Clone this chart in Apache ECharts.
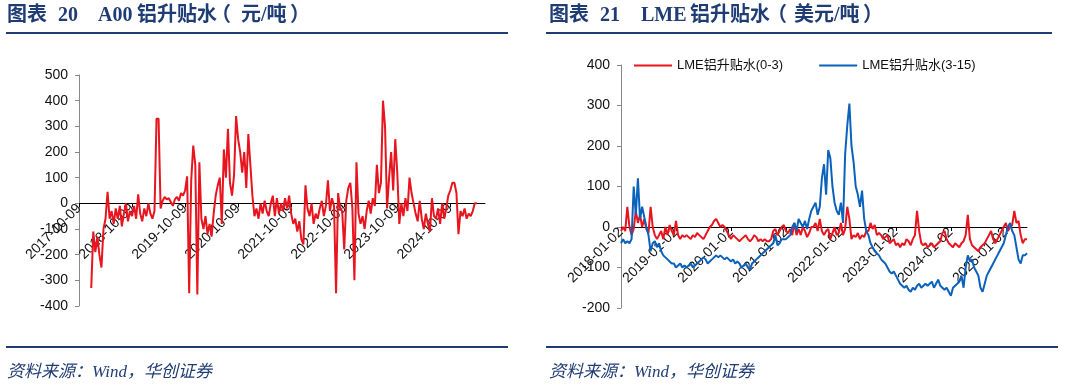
<!DOCTYPE html>
<html>
<head>
<meta charset="utf-8">
<script src="https://cdn.jsdelivr.net/npm/echarts@6/dist/echarts.min.js"></script>
<style>
  html, body { margin: 0; padding: 0; background: #fff; }
  #main { width: 1066px; height: 386px; }
</style>
</head>
<body>
<div id="main"></div>
<script>
// 图表20：A00铝升贴水（元/吨），每26个点一个刻度（约一年）
var a00Ticks = ['2017-10-09', '2018-10-09', '2019-10-09', '2020-10-09', '2021-10-09', '2022-10-09', '2023-10-09', '2024-10-09'];
var a00Values = [
  null, null, null, null, null, null,
  -330, -110, -190, -130, -200, -250, -100, -60, 45, -60,
  -30, -80, -20, -60, -10, -90, -40, 0, -70, -30,
  -50, -10, -60, 35, -40, -70, -20, -50, 0, -40,
  -60, -30, 330, 330, -20, 10, 25, 15, 20, 5,
  -10, 15, 25, 10, 40, 30, 50, 105, -350, 90,
  225, 150, -355, 160, -60, -100, -50, -120, -80, -130,
  -40, 30, 70, 100, -80, 210, 100, 290, 80, 30,
  110, 340, 250, 200, 120, 200, 60, 270, 150, 30,
  -50, -20, -60, 0, -40, 10, -30, -50, 0, 30,
  -50, 20, -40, 0, -30, 20, -20, 30, -40, -80,
  -60, -110, -70, -140, -160, 70, -20, -50, 0, -80,
  -40, -60, -20, 10, -50, -10, 90, -30, 20, -10,
  -350, 40, -20, -30, -180, 10, 60, 80, -20, -300,
  160, -40, -80, -50, -100, -30, 10, -40, 20, -10,
  150, 40, 80, 400, 300, -20, 100, 200, 50, 250,
  120, -80, 0, -50, 20, -30, 100, 40, 0, -40,
  -70, 10, -60, -100, -40, -80, -110, 20, -50, -60,
  -20, -80, 0, -60, -20, 30, 50, 80, 80, 40,
  -120, -30, -50, -20, -60, -40, -50, -30, 0, 0
];

// 图表21：LME铝升贴水（美元/吨）
var lmeTicks = ['2018-01-02', '2019-01-02', '2020-01-02', '2021-01-02', '2022-01-02', '2023-01-02', '2024-01-02', '2025-01-02'];
var lmeNames = ['LME铝升贴水(0-3)', 'LME铝升贴水(3-15)'];
var lme03 = [
  -10, 0, -10, 50, 0, -20, -5, 40, 10, 30,
  0, 20, -5, -15, 50, 0, -20, -30, -20, -10,
  -30, 0, -20, 5, -10, -20, 15, -20, -30, -20,
  -25, -20, -25, -30, -20, -25, -15, -20, -25, -30,
  -20, -10, 0, 5, 15, 20, 10, 0, 5, 0,
  -10, -20, -30, -20, -25, -30, -35, -30, -25, -20,
  -30, -35, -30, -20, -25, -35, -30, -35, -30, -35,
  -35, -30, -10, -5, -20, -10, 0, 5, -10, -15,
  -5, -20, 10, -20, -5, -20, 0, -10, -25, -15,
  0, 0, 10, -10, 20, -10, -20, -10, -5, -30,
  -15, 0, -20, -15, 10, -20, -5, 50, 20, -30,
  -20, -25, -15, -30, -20, -25, -10, -10, 10, -5,
  5, -20, -15, -20, -30, -25, -20, -40, -35, -30,
  -45, -40, -50, -40, -45, -30, -35, -45, -30, -20,
  40, -10, -40, -45, -40, -50, -45, -40, -50, -45,
  -40, -35, -15, -10, -30, -40, -45, -50, -40, -45,
  -50, -40, -35, -20, 30, -30, -45, -50, -55, -60,
  -50, -45, -40, -30, -20, -10, -30, -40, -30, -20,
  -10, 0, 10, -10, 0, 5, 40, 10, 15, -20,
  -40, -30, -30
];
var lme315 = [
  -40, -30, -40, -35, -40, -30, 100, 30, 120, 20,
  50, 25, 0, -20, -60, -40, -35, -50, -40, -60,
  -70, -75, -80, -85, -90, -90, -100, -95, -90, -100,
  -95, -100, -95, -90, -100, -95, -90, -85, -80, -75,
  -80, -90, -85, -80, -75, -70, -75, -70, -75, -80,
  -75, -80, -85, -80, -90, -85, -90, -100, -95, -90,
  -100, -105, -90, -85, -80, -75, -70, -65, -60, -55,
  -50, -45, -40, -20, -45, -40, -30, -30, -30, -25,
  -20, 0, 10, -10, 20, 10, 0, 15, -5, 20,
  40, 50, 60, 30, 50, 120, 155, 80, 190, 170,
  100, 60, 40, 30, 60, 10, 180, 250, 305, 200,
  160, 100, 80, 50, 90, 20, -10, -20, -40, -50,
  -60, -65, -70, -80, -85, -90, -100, -110, -115, -110,
  -120, -130, -140, -145, -150, -145, -155, -160, -150, -155,
  -145, -140, -150, -145, -140, -145, -140, -135, -150, -140,
  -130, -145, -150, -155, -150, -160, -170, -150, -145, -140,
  -135, -120, -150, -100, -70, -85, -80, -100, -110, -120,
  -150, -160, -140, -120, -110, -100, -90, -80, -70, -60,
  -50, -40, -20, 0, 10, -10, -20, -50, -80, -90,
  -70, -70, -65
];

var navy = '#1f3c74';
var red = '#e8141e';
var blue = '#0b62bd';
var sans = "'Liberation Sans', 'Noto Sans CJK SC', sans-serif";
var serif = "'Liberation Serif', 'Noto Sans CJK SC', serif";

// 按刻度生成类目（每段26个点，步长14天）
function buildCats(ticks, tail) {
  var cats = [];
  for (var t = 0; t < ticks.length; t++) {
    var base = new Date(ticks[t] + 'T00:00:00Z').getTime();
    var n = (t < ticks.length - 1) ? 26 : tail + 1;
    for (var k = 0; k < n; k++) {
      cats.push(new Date(base + k * 14 * 86400000).toISOString().slice(0, 10));
    }
  }
  return cats;
}

var a00Cats = buildCats(a00Ticks, 17);
var lmeCats = buildCats(lmeTicks, 10);

// x轴放在0值处：用offset把整条轴（线、刻度、标签）上移
function xAxisOpt(idx, cats, lift) {
  return {
    type: 'category',
    gridIndex: idx,
    data: cats,
    boundaryGap: false,
    offset: -lift,
    axisLine: { onZero: false, lineStyle: { color: '#000', width: 1 } },
    axisTick: { show: true, interval: 25, length: 4, lineStyle: { color: '#000' } },
    axisLabel: { interval: 25, rotate: 45, margin: 3, color: '#111', fontSize: 14, fontFamily: sans },
    splitLine: { show: false }
  };
}

function yAxisOpt(idx, min, max) {
  return {
    type: 'value',
    gridIndex: idx,
    min: min,
    max: max,
    interval: 100,
    axisLine: { show: true, lineStyle: { color: '#888', width: 1 } },
    axisTick: { show: true, length: 4, lineStyle: { color: '#888' } },
    axisLabel: { color: '#111', fontSize: 14, fontFamily: sans, margin: 11 },
    splitLine: { show: false }
  };
}

function headerText(x, y, txt, size, style) {
  return {
    type: 'text', left: x, top: y,
    style: { text: txt, fill: navy, font: style + ' ' + size + 'px ' + serif }
  };
}

function rule(x1, x2, y) {
  return {
    type: 'line',
    shape: { x1: x1, y1: y, x2: x2, y2: y },
    style: { stroke: navy, lineWidth: 2 }
  };
}

var option = {
  animation: false,
  grid: [
    { left: 79, top: 75, width: 406, height: 231 },
    { left: 621, top: 65, width: 406, height: 243 }
  ],
  legend: {
    data: lmeNames,
    left: 629, top: 54,
    icon: 'rect', itemWidth: 38, itemHeight: 2, itemGap: 36,
    textStyle: { color: '#111', fontSize: 13, fontFamily: sans }
  },
  xAxis: [xAxisOpt(0, a00Cats, 102.7), xAxisOpt(1, lmeCats, 81)],
  yAxis: [yAxisOpt(0, -400, 500), yAxisOpt(1, -200, 400)],
  series: [
    {
      name: 'A00铝升贴水', type: 'line', xAxisIndex: 0, yAxisIndex: 0,
      data: a00Values, showSymbol: false, lineStyle: { color: red, width: 2 }, itemStyle: { color: red }
    },
    {
      name: lmeNames[0], type: 'line', xAxisIndex: 1, yAxisIndex: 1,
      data: lme03, showSymbol: false, lineStyle: { color: red, width: 2 }, itemStyle: { color: red }
    },
    {
      name: lmeNames[1], type: 'line', xAxisIndex: 1, yAxisIndex: 1,
      data: lme315, showSymbol: false, lineStyle: { color: blue, width: 2 }, itemStyle: { color: blue }
    }
  ],
  graphic: [
    // 左标题
    headerText(7, 6, '图表', 20, 'bold'),
    headerText(58, 6, '20', 20, 'bold'),
    headerText(98, 6, 'A00', 20, 'bold'),
    headerText(137, 6, '铝升贴水', 20, 'bold'),
    headerText(211, 6, '（', 20, 'bold'),
    headerText(241, 6, '元/吨', 20, 'bold'),
    headerText(290, 6, '）', 20, 'bold'),
    // 右标题
    headerText(549, 6, '图表', 20, 'bold'),
    headerText(600, 6, '21', 20, 'bold'),
    headerText(641, 6, 'LME', 20, 'bold'),
    headerText(690, 6, '铝升贴水', 20, 'bold'),
    headerText(767, 6, '（', 20, 'bold'),
    headerText(794, 6, '美元/吨', 20, 'bold'),
    headerText(863, 6, '）', 20, 'bold'),
    rule(6, 508, 33),
    rule(546, 1052, 33),
    rule(6, 508, 347),
    rule(546, 1058, 347),
    headerText(7, 364, '资料来源：Wind，华创证券', 17, 'italic'),
    headerText(549, 364, '资料来源：Wind，华创证券', 17, 'italic')
  ]
};

var myChart = echarts.init(document.getElementById('main'));
myChart.setOption(option);
</script>
</body>
</html>
